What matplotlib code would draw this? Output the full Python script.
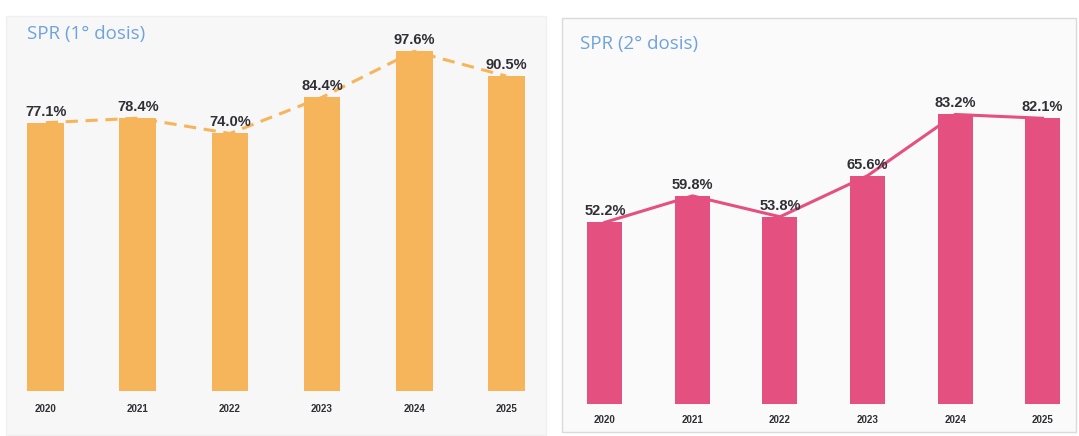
"""
Cobertura SPR (1° y 2° dosis), 2020-2025.
Two panels: bars with a line joining the tops.
"""

import matplotlib
matplotlib.use("Agg")
from matplotlib import pyplot as plt
from matplotlib.patches import Rectangle

YEARS = ["2020", "2021", "2022", "2023", "2024", "2025"]
DOSE1 = [77.1, 78.4, 74.0, 84.4, 97.6, 90.5]
DOSE2 = [52.2, 59.8, 53.8, 65.6, 83.2, 82.1]
TITLE1 = "SPR (1° dosis)"
TITLE2 = "SPR (2° dosis)"

ORANGE = "#F6B55A"
PINK = "#E4507F"
BLUE = "#6FA3DD"
DARK = "#2F2F35"

W, H = 1079, 436
fig = plt.figure(figsize=(W / 100, H / 100), dpi=100)
fig.patch.set_facecolor("white")
plt.rcParams["font.family"] = ["Liberation Sans", "DejaVu Sans"]

# panel backgrounds (pixel boxes -> figure fractions)
def box(x0, y0, x1, y1, fc, ec):
    fig.add_artist(Rectangle((x0 / W, 1 - y1 / H), (x1 - x0) / W, (y1 - y0) / H,
                             transform=fig.transFigure, facecolor=fc,
                             edgecolor=ec, linewidth=1, zorder=-5))

box(6, 16, 546, 435, "#F7F7F7", "#F0F0F0")
box(562, 18, 1076, 432, "#FAFAFA", "#DADADA")

def panel(left_px, right_px, bottom_px, top_px, xlim, values, color, dashed, pad):
    ax = fig.add_axes([left_px / W, 1 - bottom_px / H,
                       (right_px - left_px) / W, (bottom_px - top_px) / H])
    ax.set_facecolor("none")
    ax.set_zorder(2)
    x = range(len(YEARS))
    ax.bar(x, values, width=0.4, color=color, zorder=2)
    ax.plot(x, values, color=color, lw=2.2,
            linestyle=(0, (4, 2.5)) if dashed else "-", zorder=1)
    for xi, v in zip(x, values):
        ax.annotate(f"{v:.1f}%", (xi, v), xytext=(0, 3), textcoords="offset points",
                    ha="center", va="bottom", fontsize=10.5, fontweight="bold",
                    color=DARK, zorder=3)
    ax.set_xlim(*xlim)
    ax.set_ylim(0, (bottom_px - top_px) / 3.48)
    ax.set_xticks(list(x))
    ax.set_xticklabels(YEARS, fontsize=7, fontweight="bold", color=DARK)
    ax.tick_params(axis="x", length=0, pad=pad)
    ax.set_yticks([])
    for s in ax.spines.values():
        s.set_visible(False)
    return ax

panel(9, 543, 391, 18, (-0.4, 5.4), DOSE1, ORANGE, True, 9)
panel(562, 1075, 404, 18, (-0.49, 5.37), DOSE2, PINK, False, 8)

fig.text(27 / W, 1 - 34 / H, TITLE1, color=BLUE, fontsize=13.5, va="center", ha="left",
         family="Open Sans")
fig.text(580 / W, 1 - 44 / H, TITLE2, color=BLUE, fontsize=13.5, va="center", ha="left",
         family="Open Sans")

fig.savefig("out.png", dpi=100)
